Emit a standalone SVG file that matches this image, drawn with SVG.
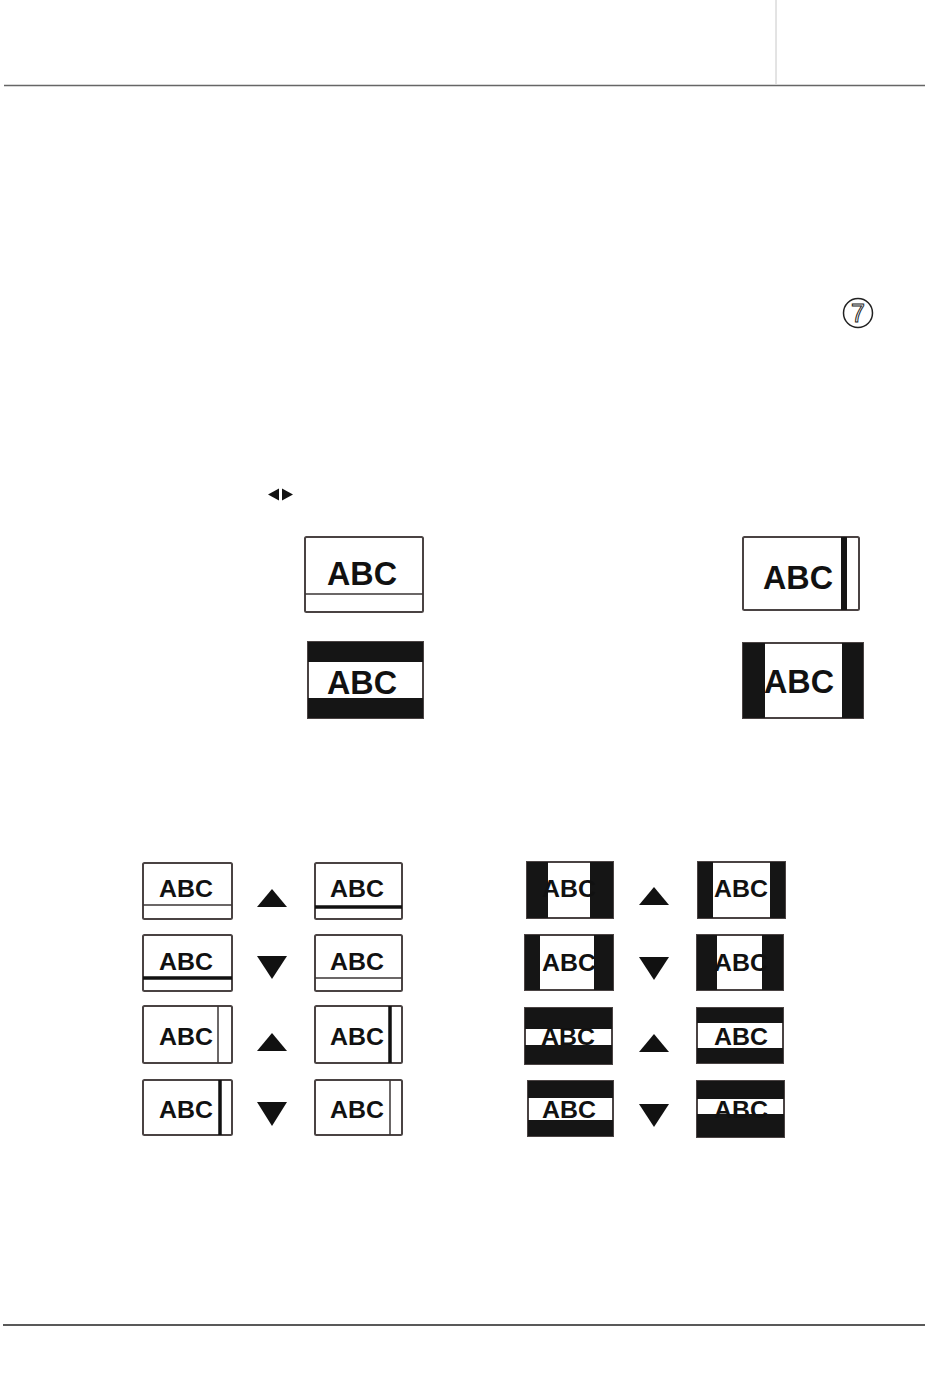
<svg xmlns="http://www.w3.org/2000/svg" width="950" height="1398" viewBox="0 0 950 1398">
<style>
.bx{fill:#fff;stroke:#4a4343;stroke-width:2}
.bk{fill:#151515;stroke:#3a3535;stroke-width:1.5}
.band{fill:#151515}
.t{font-family:"Liberation Sans",Arial,sans-serif;font-weight:bold;fill:#111}
.big{font-size:34px}
.sm{font-size:23px}
.ln{stroke:#3a3535;stroke-width:1.5}
.thk{stroke:#111;stroke-width:3.5}
.tri{fill:#111}
</style>
<rect width="950" height="1398" fill="#fff"/>
<g id="rules">
<line x1="776" y1="0" x2="776" y2="84" stroke="#c8c8c8" stroke-width="1"/>
<line x1="4" y1="85.5" x2="925" y2="85.5" stroke="#666" stroke-width="1.5"/>
<line x1="3" y1="1325" x2="925" y2="1325" stroke="#222" stroke-width="1.5"/>
</g>
<g id="step7">
<circle cx="858" cy="313" r="14.5" fill="#fff" stroke="#222" stroke-width="1.5"/>
<text x="858" y="322" text-anchor="middle" font-family="'Liberation Sans',Arial,sans-serif" font-size="25" fill="#fff" stroke="#222" stroke-width="1">7</text>
</g>
<g id="lr-arrows">
<polygon class="tri" points="268,494.5 279,488.5 279,500.5"/>
<polygon class="tri" points="293,494.5 282,488.5 282,500.5"/>
</g>

<g id="top-boxes">
<g id="tb1">
<rect class="bx" x="305" y="537" width="118" height="75" rx="1.5"/>
<line class="ln" x1="305" y1="594" x2="423" y2="594"/>
<text class="t big" x="327" y="585" textLength="70" lengthAdjust="spacingAndGlyphs">ABC</text>
</g>
<g id="tb2">
<rect class="bx" x="308" y="642" width="115" height="76"/>
<rect class="band" x="308" y="642" width="115" height="20"/>
<rect class="band" x="308" y="698" width="115" height="20"/>
<text class="t big" x="327" y="694" textLength="70" lengthAdjust="spacingAndGlyphs">ABC</text>
</g>
<g id="tb3">
<rect class="bx" x="743" y="537" width="116" height="73" rx="1.5"/>
<rect class="band" x="841" y="537" width="6" height="73"/>
<text class="t big" x="763" y="589" textLength="70" lengthAdjust="spacingAndGlyphs">ABC</text>
</g>
<g id="tb4">
<rect class="bx" x="743" y="643" width="120" height="75"/>
<rect class="band" x="743" y="643" width="22" height="75"/>
<rect class="band" x="842" y="643" width="21" height="75"/>
<text class="t big" x="764" y="693" textLength="70" lengthAdjust="spacingAndGlyphs">ABC</text>
</g>
</g>

<g id="left-grid">
<g id="l1a">
<rect class="bx" x="143" y="863" width="89" height="56" rx="1.5"/>
<line class="ln" x1="143" y1="905" x2="232" y2="905"/>
<text class="t sm" x="159" y="897" textLength="54" lengthAdjust="spacingAndGlyphs">ABC</text>
</g>
<polygon id="l1-up" class="tri" points="272,889 287,907 257,907"/>
<g id="l1b">
<rect class="bx" x="315" y="863" width="87" height="56" rx="1.5"/>
<line class="thk" x1="315" y1="907" x2="402" y2="907"/>
<text class="t sm" x="330" y="897" textLength="54" lengthAdjust="spacingAndGlyphs">ABC</text>
</g>
<g id="l2a">
<rect class="bx" x="143" y="935" width="89" height="56" rx="1.5"/>
<line class="thk" x1="143" y1="978" x2="232" y2="978"/>
<text class="t sm" x="159" y="970" textLength="54" lengthAdjust="spacingAndGlyphs">ABC</text>
</g>
<polygon id="l2-down" class="tri" points="257,956 287,956 272,979"/>
<g id="l2b">
<rect class="bx" x="315" y="935" width="87" height="56" rx="1.5"/>
<line class="ln" x1="315" y1="978" x2="402" y2="978"/>
<text class="t sm" x="330" y="970" textLength="54" lengthAdjust="spacingAndGlyphs">ABC</text>
</g>
<g id="l3a">
<rect class="bx" x="143" y="1006" width="89" height="57" rx="1.5"/>
<line class="ln" x1="218" y1="1006" x2="218" y2="1063"/>
<text class="t sm" x="159" y="1045" textLength="54" lengthAdjust="spacingAndGlyphs">ABC</text>
</g>
<polygon id="l3-up" class="tri" points="272,1033 287,1051 257,1051"/>
<g id="l3b">
<rect class="bx" x="315" y="1006" width="87" height="57" rx="1.5"/>
<line class="thk" x1="390" y1="1006" x2="390" y2="1063"/>
<text class="t sm" x="330" y="1045" textLength="54" lengthAdjust="spacingAndGlyphs">ABC</text>
</g>
<g id="l4a">
<rect class="bx" x="143" y="1080" width="89" height="55" rx="1.5"/>
<line class="thk" x1="220" y1="1080" x2="220" y2="1135"/>
<text class="t sm" x="159" y="1118" textLength="54" lengthAdjust="spacingAndGlyphs">ABC</text>
</g>
<polygon id="l4-down" class="tri" points="257,1102 287,1102 272,1126"/>
<g id="l4b">
<rect class="bx" x="315" y="1080" width="87" height="55" rx="1.5"/>
<line class="ln" x1="390" y1="1080" x2="390" y2="1135"/>
<text class="t sm" x="330" y="1118" textLength="54" lengthAdjust="spacingAndGlyphs">ABC</text>
</g>
</g>

<g id="right-grid">
<g id="r1a">
<rect class="bx" x="527" y="862" width="86" height="56"/>
<rect class="band" x="527" y="862" width="21" height="56"/>
<rect class="band" x="590" y="862" width="23" height="56"/>
<text class="t sm" x="542" y="897" textLength="54" lengthAdjust="spacingAndGlyphs">ABC</text>
</g>
<polygon id="r1-up" class="tri" points="654,887 669,905 639,905"/>
<g id="r1b">
<rect class="bx" x="698" y="862" width="87" height="56"/>
<rect class="band" x="698" y="862" width="15" height="56"/>
<rect class="band" x="770" y="862" width="15" height="56"/>
<text class="t sm" x="714" y="897" textLength="54" lengthAdjust="spacingAndGlyphs">ABC</text>
</g>
<g id="r2a">
<rect class="bx" x="525" y="935" width="88" height="55"/>
<rect class="band" x="525" y="935" width="15" height="55"/>
<rect class="band" x="594" y="935" width="19" height="55"/>
<text class="t sm" x="542" y="971" textLength="54" lengthAdjust="spacingAndGlyphs">ABC</text>
</g>
<polygon id="r2-down" class="tri" points="639,957 669,957 654,980"/>
<g id="r2b">
<rect class="bx" x="697" y="935" width="86" height="55"/>
<rect class="band" x="697" y="935" width="20" height="55"/>
<rect class="band" x="762" y="935" width="21" height="55"/>
<text class="t sm" x="714" y="971" textLength="54" lengthAdjust="spacingAndGlyphs">ABC</text>
</g>
<g id="r3a">
<rect class="bx" x="525" y="1008" width="87" height="56"/>
<rect class="band" x="525" y="1008" width="87" height="21"/>
<rect class="band" x="525" y="1045" width="87" height="19"/>
<text class="t sm" x="541" y="1045" textLength="54" lengthAdjust="spacingAndGlyphs">ABC</text>
</g>
<polygon id="r3-up" class="tri" points="654,1034 669,1052 639,1052"/>
<g id="r3b">
<rect class="bx" x="697" y="1008" width="86" height="55"/>
<rect class="band" x="697" y="1008" width="86" height="15"/>
<rect class="band" x="697" y="1048" width="86" height="15"/>
<text class="t sm" x="714" y="1045" textLength="54" lengthAdjust="spacingAndGlyphs">ABC</text>
</g>
<g id="r4a">
<rect class="bx" x="528" y="1081" width="85" height="55"/>
<rect class="band" x="528" y="1081" width="85" height="17"/>
<rect class="band" x="528" y="1120" width="85" height="16"/>
<text class="t sm" x="542" y="1118" textLength="54" lengthAdjust="spacingAndGlyphs">ABC</text>
</g>
<polygon id="r4-down" class="tri" points="639,1104 669,1104 654,1127"/>
<g id="r4b">
<rect class="bx" x="697" y="1081" width="87" height="56"/>
<rect class="band" x="697" y="1081" width="87" height="18"/>
<rect class="band" x="697" y="1114" width="87" height="23"/>
<text class="t sm" x="714" y="1118" textLength="54" lengthAdjust="spacingAndGlyphs">ABC</text>
</g>
</g>
</svg>
